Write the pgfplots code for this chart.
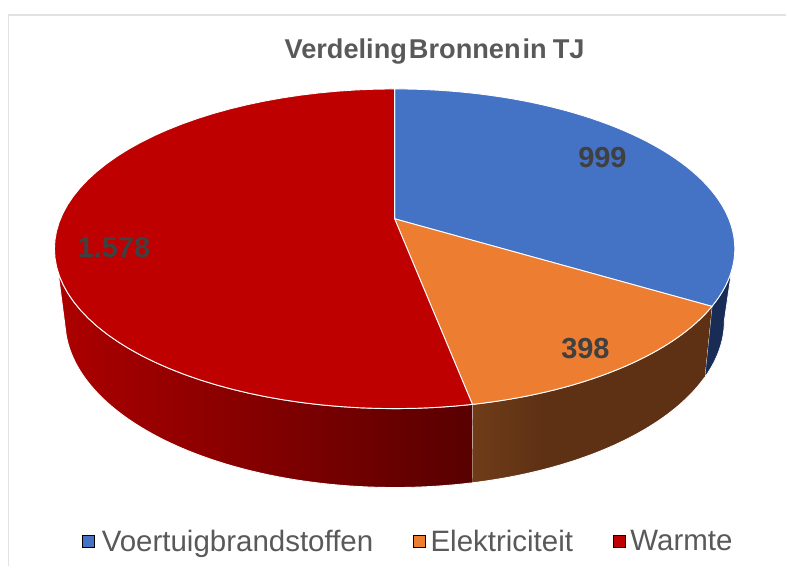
\documentclass[border=0pt]{standalone}
\usepackage{fontspec}
\setmainfont{Liberation Sans}
\usepackage{pgfplots}
\pgfplotsset{compat=1.18}
% --- chart values (TJ)
\def\valA{999}\def\valB{398}\def\valC{1578}
% --- geometry of the tilted disc (pixels of the picture)
\def\cx{395}
\def\ua{340.5}\def\ub{160}\def\uc{249}\def\uk{-0.1875}
\def\la{330}\def\lb{167}\def\lc{321}\def\lk{-0.21}
\pgfmathsetmacro\thA{360*(\valA/(\valA+\valB+\valC))}
\pgfmathsetmacro\thB{360*((\valA+\valB)/(\valA+\valB+\valC))}
% perspective map of a true angle on to an ellipse parameter
\newcommand\persp[3]{\pgfmathsetmacro#1{atan2((-cos(#2)+#3)/(1-#3*cos(#2)),sin(#2)*sqrt(1-#3*#3)/(1-#3*cos(#2)))}}
\persp\tuA\thA\uk \persp\tuB\thB\uk
\persp\tlA\thA\lk \persp\tlB\thB\lk
\newcommand\resetpts{\gdef\pts{}}
\newcommand\addpt[2]{\xdef\pts{\pts (#1,#2)}}
\newcommand\arcpts[6]{\foreach \i in {0,...,60}{%
  \pgfmathsetmacro\myT{#5+(#6-#5)*\i/60}%
  \pgfmathsetmacro\myX{#1+#3*cos(\myT)}%
  \pgfmathsetmacro\myY{#2+#4*sin(\myT)}%
  \addpt{\myX}{\myY}}}
\newcommand\upperarc[2]{\arcpts{\cx}{\uc}{\ua}{\ub}{#1}{#2}}
\newcommand\lowerarc[2]{\arcpts{\cx}{\lc}{\la}{\lb}{#1}{#2}}
\pgfmathsetmacro\apexY{\uc+\ub*\uk}
% top faces
\resetpts\addpt{\cx}{\apexY}\upperarc{-90}{\tuA}\addpt{\cx}{\apexY}\global\let\topA\pts
\resetpts\addpt{\cx}{\apexY}\upperarc{\tuA}{\tuB}\addpt{\cx}{\apexY}\global\let\topB\pts
\resetpts\addpt{\cx}{\apexY}\upperarc{\tuB}{270}\addpt{\cx}{\apexY}\global\let\topC\pts
% side faces
\resetpts\upperarc{9.35}{\tuA}\lowerarc{\tlA}{0}\addpt{731.7}{275}\global\let\sideA\pts
\resetpts\upperarc{\tuA}{\tuB}\lowerarc{\tlB}{\tlA}\global\let\sideB\pts
\resetpts\upperarc{\tuB}{171.7}\lowerarc{175}{\tlB}\global\let\sideC\pts
\newcommand\drawpoly[2]{\edef\tmp{\noexpand\addplot[#1] coordinates {#2};}\tmp}
\definecolor{cA}{RGB}{68,114,196}
\definecolor{cB}{RGB}{237,125,49}
\definecolor{cC}{RGB}{190,0,0}
\definecolor{txt}{RGB}{89,89,89}
\definecolor{lab}{RGB}{64,64,64}
\definecolor{frame}{RGB}{226,226,226}
\definecolor{rl}{RGB}{172,0,0}\definecolor{rr}{RGB}{88,0,0}
\definecolor{ol}{RGB}{112,60,24}\definecolor{or}{RGB}{94,49,20}
\definecolor{bs}{RGB}{24,44,86}
\pgfdeclarehorizontalshading{redside}{100bp}{color(0bp)=(rl);color(25bp)=(rl);color(75bp)=(rr);color(100bp)=(rr)}
\pgfdeclarehorizontalshading{orangeside}{100bp}{color(0bp)=(ol);color(25bp)=(ol);color(40bp)=(or);color(100bp)=(or)}
\begin{document}
\begin{tikzpicture}
\begin{axis}[
  scale only axis, width=787bp, height=567bp,
  xmin=0, xmax=787, ymin=0, ymax=567, y dir=reverse,
  hide axis, clip=false,
  legend columns=3,
  legend cell align=left,
  legend style={at={(axis cs:82,542)}, anchor=west, draw=none, fill=none,
    inner sep=0pt, outer sep=0pt,
    font=\fontsize{29.5bp}{31bp}\selectfont\color{txt},
    /tikz/every even column/.append style={column sep=37.5bp},
    /tikz/every odd column/.append style={column sep=5.5bp}},
  legend image code/.code={\fill[#1] (0bp,-6bp) rectangle (12bp,6bp);},
]
\path (axis cs:0,0) -- (axis cs:787,567);
\addplot[forget plot, frame, line width=1.5bp] coordinates {(8.5,567) (8.5,15) (787,15)};
\drawpoly{forget plot, fill=bs, draw=white, line width=0.7bp}{\sideA}
\drawpoly{forget plot, shade, shading=orangeside, draw=white, line width=0.9bp}{\sideB}
\drawpoly{forget plot, shade, shading=redside, draw=white, line width=0.9bp}{\sideC}
\drawpoly{forget plot, fill=cA, draw=white, line width=0.9bp}{\topA}
\drawpoly{forget plot, fill=cB, draw=white, line width=0.9bp}{\topB}
\drawpoly{forget plot, fill=cC, draw=white, line width=0.9bp}{\topC}
\addlegendimage{fill=cA}\addlegendentry{Voertuigbrandstoffen}
\addlegendimage{fill=cB}\addlegendentry{\hspace{-2bp}Elektriciteit\hspace{-3bp}}
\addlegendimage{fill=cC}\addlegendentry{\hspace{-2bp}Warmte}
\node[font=\fontsize{27.2bp}{29bp}\selectfont\bfseries, text=txt] at (axis cs:435,52)
  {Verdeling\hspace{2bp}Bronnen\hspace{2bp}in\hspace{6bp}TJ};
\node[font=\fontsize{29bp}{30bp}\selectfont\bfseries, text=lab] at (axis cs:603,158) {999};
\node[font=\fontsize{29bp}{30bp}\selectfont\bfseries, text=lab] at (axis cs:586,349) {398};
\node[font=\fontsize{29bp}{30bp}\selectfont\bfseries, text=lab] at (axis cs:114,248) {1.578};
\end{axis}
\end{tikzpicture}
\end{document}
